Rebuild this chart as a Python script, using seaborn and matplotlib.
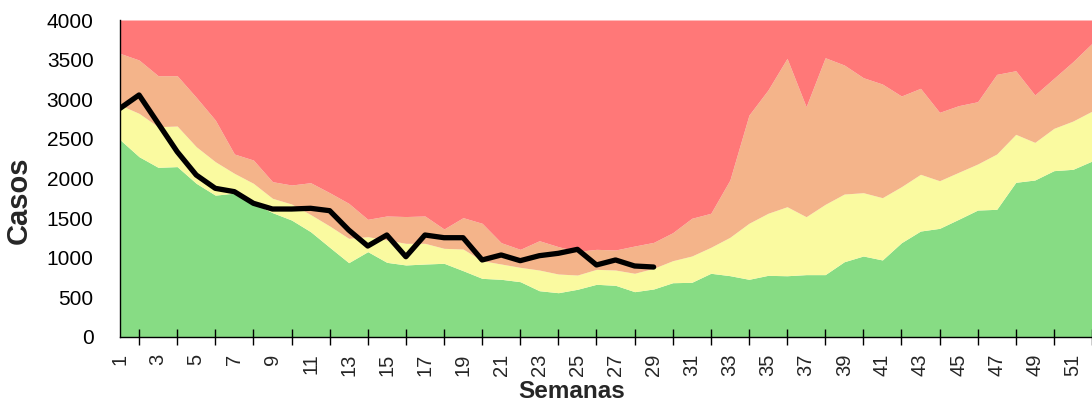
import numpy as np
import pandas as pd
import matplotlib
matplotlib.use("Agg")
import matplotlib.pyplot as plt
import seaborn as sns

weeks = list(range(1, 53))
zona_exito = [2490, 2275, 2141, 2150, 1939, 1790, 1815, 1687, 1569, 1476, 1329, 1132, 938, 1077,
              942, 909, 921, 930, 837, 740, 728, 698, 584, 559, 602, 665, 652, 572, 606, 685,
              690, 804, 774, 728, 778, 773, 787, 787, 950, 1022, 972, 1190, 1337, 1371, 1485,
              1602, 1611, 1952, 1981, 2099, 2116, 2220]
zona_seguridad = [2927, 2822, 2654, 2662, 2401, 2212, 2065, 1939, 1750, 1678, 1545, 1401, 1245, 1266,
                  1224, 1182, 1182, 1119, 1110, 963, 921, 879, 845, 795, 782, 854, 845, 804, 867,
                  963, 1022, 1132, 1258, 1435, 1561, 1644, 1518, 1674, 1804, 1821, 1758, 1897,
                  2053, 1972, 2078, 2183, 2309, 2557, 2456, 2633, 2725, 2850]
zona_alarma = [3579, 3495, 3297, 3297, 3024, 2738, 2309, 2233, 1960, 1918, 1947, 1821, 1687, 1485,
               1527, 1520, 1527, 1363, 1506, 1435, 1190, 1106, 1215, 1140, 1080, 1106, 1098, 1148,
               1194, 1316, 1498, 1561, 1981, 2800, 3117, 3516, 2906, 3524, 3432, 3272, 3192, 3041,
               3138, 2835, 2919, 2969, 3314, 3360, 3054, 3264, 3474, 3706]
zona_epidemia_top = 4000
case_weeks = list(range(1, 30))
casos = [2885, 3054, 2696, 2338, 2044, 1876, 1834, 1687, 1615, 1615, 1624, 1594, 1350, 1148,
         1287, 1013, 1287, 1253, 1253, 972, 1035, 963, 1026, 1056, 1106, 909, 972, 896, 883]

sns.set_style("white")
plt.rcParams['font.family'] = ['Liberation Sans', 'DejaVu Sans']

fig = plt.figure(figsize=(10.92, 4.01), dpi=100)
ax = fig.add_axes([120/1092, 64/401, 972/1092, 317/401])

c_green = "#87DC84"
c_yellow = "#FAFAA0"
c_orange = "#F4B48A"
c_red = "#FF7878"

w = np.array(weeks)
g = np.array(zona_exito)
y = np.array(zona_seguridad)
o = np.array(zona_alarma)
ax.fill_between(w, 0, g, color=c_green, lw=0)
ax.fill_between(w, g, y, color=c_yellow, lw=0)
ax.fill_between(w, y, o, color=c_orange, lw=0)
ax.fill_between(w, o, zona_epidemia_top, color=c_red, lw=0)

df = pd.DataFrame({"Semana": case_weeks, "Casos": casos})
sns.lineplot(data=df, x="Semana", y="Casos", ax=ax, color="black", lw=3.8, zorder=5)

ax.set_xlim(1, 51.47)
ax.set_ylim(0, 4000)
ax.set_yticks(range(0, 4001, 500))
ax.set_xticks(range(1, 52, 2))
ax.set_xticks(range(2, 53, 2), minor=True)
ax.set_xticklabels([str(i) for i in range(1, 52, 2)], rotation=90)
ax.tick_params(axis='y', direction='in', length=6, width=1, color='black', labelsize=15, pad=19, labelcolor='black')
ax.tick_params(axis='x', which='both', direction='inout', length=12, width=1, color='black', labelsize=14.5, pad=6)
ax.tick_params(axis='x', which='minor', bottom=True)

for s in ['top', 'right']:
    ax.spines[s].set_visible(False)
for s in ['left', 'bottom']:
    ax.spines[s].set_color('black')
    ax.spines[s].set_linewidth(1)
ax.set_axisbelow(False)

ax.set_xlabel("Semanas", fontsize=17.5, fontweight='bold')
ax.set_ylabel("Casos", fontsize=21, fontweight='bold')
ax.xaxis.set_label_coords(0.465, -0.135)
ax.yaxis.set_label_coords(-0.0895, 0.43)

fig.savefig("out.png", dpi=100)
